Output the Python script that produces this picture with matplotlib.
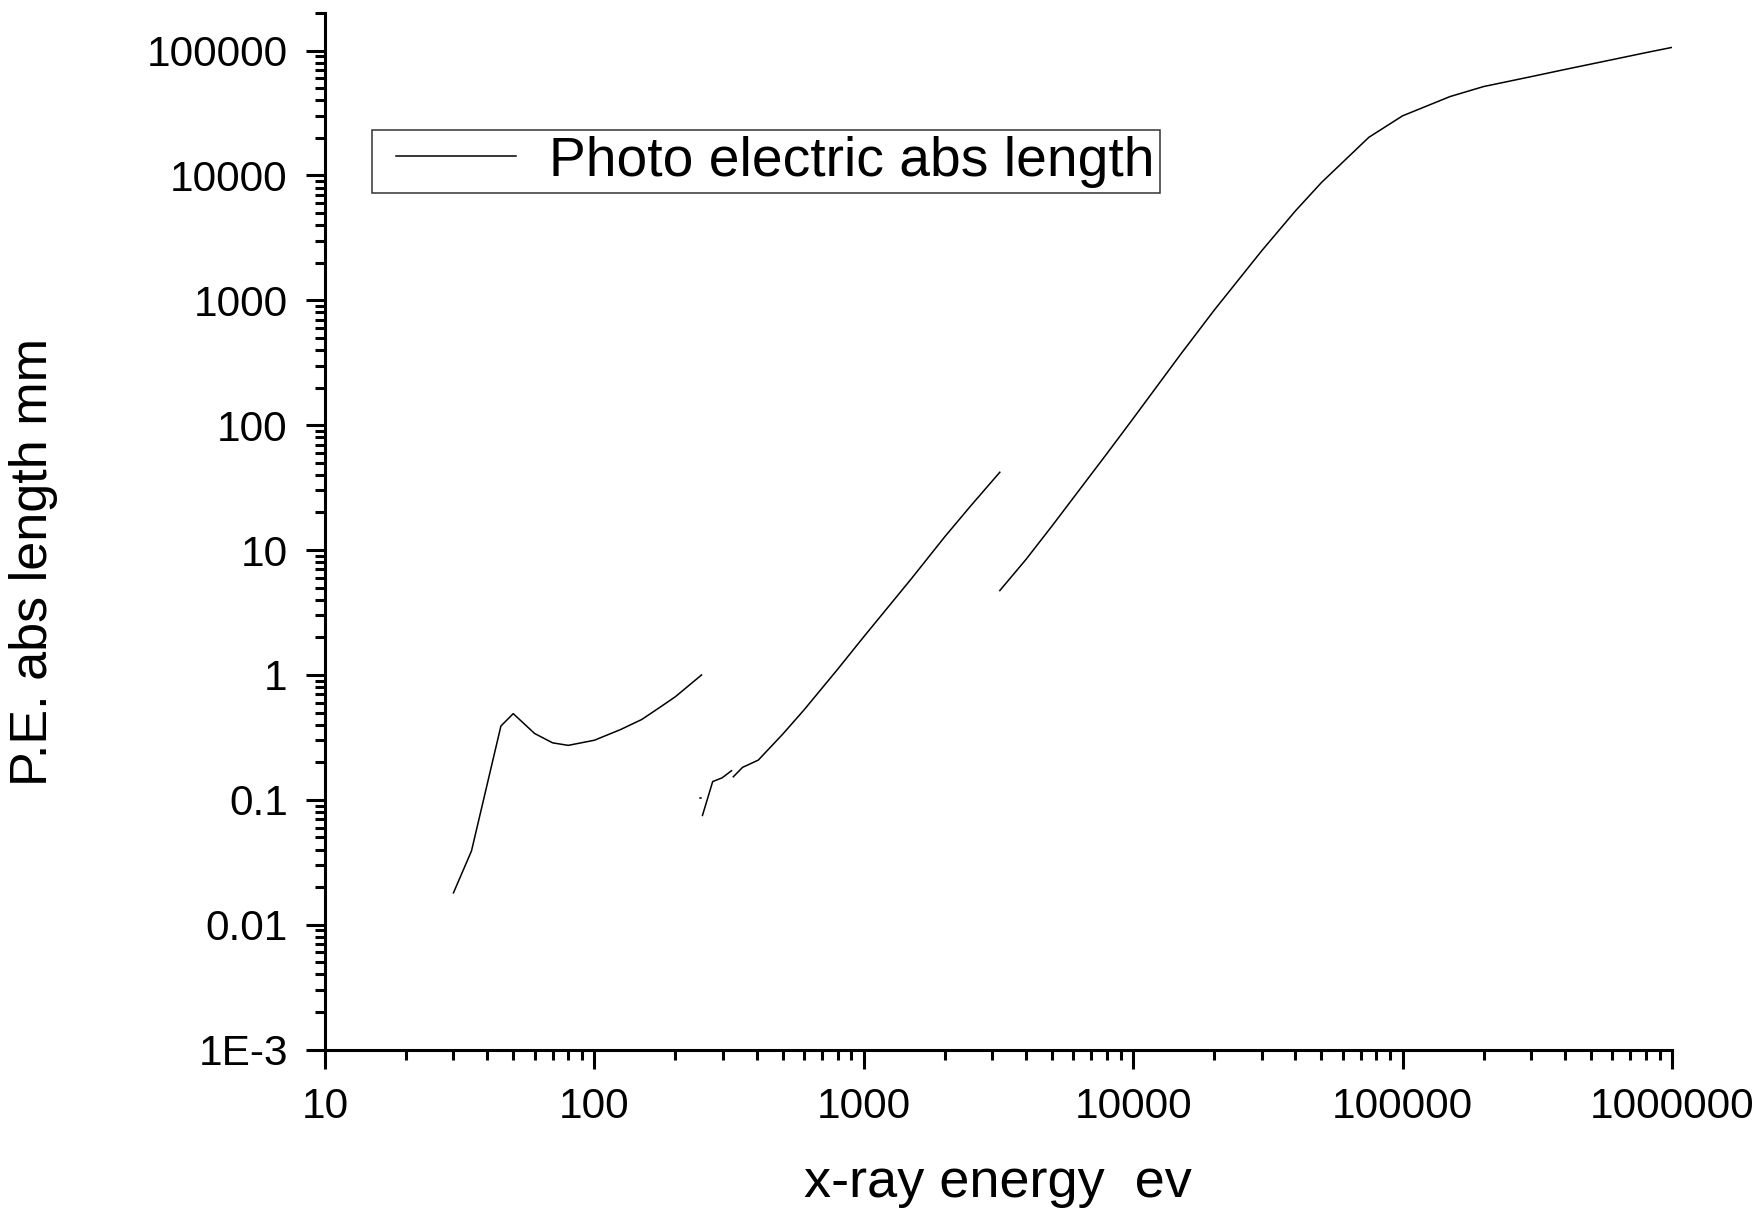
#!/usr/bin/env python3

import matplotlib
matplotlib.use("Agg")
import matplotlib.pyplot as plt
from matplotlib.legend_handler import HandlerLine2D
from matplotlib.ticker import FixedLocator, NullFormatter

plt.rcParams["font.family"] = ["Liberation Sans", "DejaVu Sans"]

# Photo-electric absorption length vs x-ray energy, one list pair per edge segment
seg1_ev = [30, 35, 45, 50, 60, 70, 80, 100, 125, 150, 175, 200, 250]
seg1_mm = [0.018, 0.039, 0.39, 0.49, 0.34, 0.286, 0.273, 0.30, 0.365, 0.44, 0.55, 0.67, 1.0]

seg2_ev = [247, 249]
seg2_mm = [0.104, 0.104]

seg3_ev = [252, 275, 298, 323]
seg3_mm = [0.075, 0.14, 0.15, 0.171]

seg4_ev = [328, 355, 406, 500, 600, 800, 1000, 1500, 2000, 2500, 3200]
seg4_mm = [0.153, 0.182, 0.208, 0.335, 0.524, 1.11, 2.02, 5.87, 12.8, 22.7, 42]

seg5_ev = [3200, 4000, 5000, 6000, 8000, 10000, 15000, 20000, 30000, 40000,
           50000, 75000, 100000, 150000, 200000, 300000, 400000, 500000,
           600000, 800000, 1000000]
seg5_mm = [4.74, 8.4, 15.6, 26.2, 59.4, 113, 369, 834, 2490, 5190,
           8770, 20200, 30000, 42800, 51500, 61800, 70500, 77900,
           84500, 96200, 106000]

x_ticks = [10, 100, 1000, 10000, 100000, 1000000]
x_labels = ["10", "100", "1000", "10000", "100000", "1000000"]
y_ticks = [1e-3, 1e-2, 1e-1, 1, 10, 100, 1000, 10000, 100000]
y_labels = ["1E-3", "0.01", "0.1", "1", "10", "100", "1000", "10000", "100000"]


class InsetLine(HandlerLine2D):
  # legend sample line that starts a bit in from the left of its slot
  def get_xdata(self, legend, xdescent, ydescent, width, height, fontsize):
    xdata, xdata_marker = super().get_xdata(legend, xdescent, ydescent,
                                            width, height, fontsize)
    return [-xdescent + 0.136 * width, -xdescent + width], xdata_marker


fig = plt.figure(figsize=(17.64, 12.12), dpi=100)
ax = fig.add_axes([0.1842, 0.1340, 0.7636, 0.8553])

segments = [(seg1_ev, seg1_mm), (seg2_ev, seg2_mm), (seg3_ev, seg3_mm),
            (seg4_ev, seg4_mm), (seg5_ev, seg5_mm)]
lines = []
for xs, ys in segments:
  line, = ax.plot(xs, ys, color="black", lw=1.1)
  lines.append(line)

ax.set_xscale("log")
ax.set_yscale("log")
ax.set_xlim(10, 1e6)
ax.set_ylim(1e-3, 2e5)

ax.xaxis.set_major_locator(FixedLocator(x_ticks))
ax.set_xticklabels(x_labels)
ax.yaxis.set_major_locator(FixedLocator(y_ticks))
ax.set_yticklabels(y_labels)
ax.xaxis.set_minor_formatter(NullFormatter())
ax.yaxis.set_minor_formatter(NullFormatter())

for side in ("top", "right"):
  ax.spines[side].set_visible(False)
for side in ("left", "bottom"):
  ax.spines[side].set_linewidth(2.2)

ax.tick_params(which="major", direction="out", length=13.7, width=2.2,
               labelsize=30.5, pad=13)
ax.tick_params(which="minor", direction="out", length=7.2, width=2.2)

ax.set_xlabel("x-ray energy  ev", fontsize=39)
ax.xaxis.set_label_coords(0.5, -0.1287)
ax.xaxis.label.set_va("center")
ax.set_ylabel("P.E. abs length mm", fontsize=37.5)
ax.yaxis.set_label_coords(-0.216, 0.470)
ax.yaxis.label.set_va("center")

leg = ax.legend([lines[0]], ["Photo electric abs length"],
                handler_map={lines[0]: InsetLine()},
                loc="upper left", bbox_to_anchor=(0.0349, 0.887),
                fontsize=39.7, frameon=True, fancybox=False, shadow=False,
                borderpad=0.1, borderaxespad=0, handlelength=2.52,
                handletextpad=0.6)
leg.get_frame().set_edgecolor("black")
leg.get_frame().set_linewidth(1.1)

fig.savefig("out.png", dpi=100)
